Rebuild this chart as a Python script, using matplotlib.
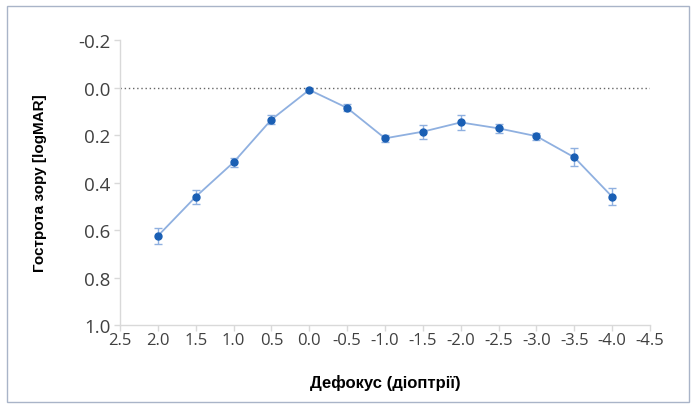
import numpy as np
import matplotlib.pyplot as plt
from matplotlib.patches import Rectangle

# дефокус (діоптрії) та гострота зору (logMAR)
defocus = [2.0, 1.5, 1.0, 0.5, 0.0, -0.5, -1.0, -1.5, -2.0, -2.5, -3.0, -3.5, -4.0]
logmar = [0.625, 0.46, 0.315, 0.135, 0.01, 0.086, 0.214, 0.186, 0.147, 0.172, 0.205, 0.294, 0.46]
err = [0.035, 0.03, 0.02, 0.02, 0.008, 0.015, 0.015, 0.03, 0.033, 0.02, 0.015, 0.038, 0.035]

x_ticks = [2.5, 2.0, 1.5, 1.0, 0.5, 0.0, -0.5, -1.0, -1.5, -2.0, -2.5, -3.0, -3.5, -4.0, -4.5]
y_ticks = [-0.2, 0.0, 0.2, 0.4, 0.6, 0.8, 1.0]

W, H = 696, 410
fig = plt.figure(figsize=(W / 100, H / 100), dpi=100)
ax = fig.add_axes([120 / W, 1 - 326 / H, 530 / W, 285 / H])

# рамка навколо всього рисунка
fig.patches.append(Rectangle((7 / W, 7 / H), 682 / W, 396 / H, transform=fig.transFigure,
                             fill=False, edgecolor='#a9b4c8', linewidth=1.0))

ax.axhline(0.0, color='#666666', linestyle=(0, (1, 2)), linewidth=1.0, zorder=1)
ax.errorbar(defocus, logmar, yerr=err, color='#8fb0e0', linewidth=1.3,
            ecolor='#8fb0e0', elinewidth=1.0, capsize=3, capthick=1.0,
            marker='o', markersize=5, markerfacecolor='#1a5fb4',
            markeredgecolor='#1a5fb4', zorder=3)

ax.set_xlim(2.5, -4.5)
ax.set_ylim(1.0, -0.2)
ax.set_xticks(x_ticks)
ax.set_xticklabels([f'{v:.1f}' for v in x_ticks])
ax.set_yticks(y_ticks)
ax.set_yticklabels([f'{v:.1f}' for v in y_ticks])

for s in ['top', 'right']:
    ax.spines[s].set_visible(False)
for s in ['left', 'bottom']:
    ax.spines[s].set_color('#d9d9d9')
    ax.spines[s].set_linewidth(1.0)
ax.tick_params(axis='both', colors='#d9d9d9', length=4, width=1.0,
               labelcolor='#404040')
ax.tick_params(axis='y', labelsize=13.5, pad=3)
ax.tick_params(axis='x', labelsize=12, pad=1)
for lab in ax.get_xticklabels() + ax.get_yticklabels():
    lab.set_family('Open Sans')

ax.set_xlabel('Дефокус (діоптрії)', fontsize=12, fontweight='bold',
              family='Liberation Sans', labelpad=19)
ax.set_ylabel('Гострота зору [logMAR]', fontsize=11, fontweight='bold',
              family='Liberation Sans', labelpad=22)

fig.savefig('out.png', dpi=100)
